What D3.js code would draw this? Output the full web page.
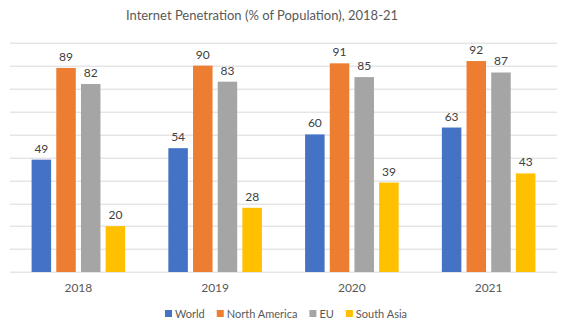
<!DOCTYPE html>
<html>
<head>
<meta charset="utf-8">
<script src="https://cdn.jsdelivr.net/npm/d3@7"></script>
<style>
  body { margin: 0; background: #fff; }
  text { font-family: Lato, "Open Sans", sans-serif; }
</style>
</head>
<body>
<svg id="chart" width="567" height="330"></svg>
<script>
// data
const years = ["2018", "2019", "2020", "2021"];
const seriesNames = ["World", "North America", "EU", "South Asia"];
const world = [49, 54, 60, 63];
const northAmerica = [89, 90, 91, 92];
const eu = [82, 83, 85, 87];
const southAsia = [20, 28, 39, 43];
const yTicks = [0, 10, 20, 30, 40, 50, 60, 70, 80, 90, 100];

const colors = ["#4472C4", "#ED7D31", "#A5A5A5", "#FFC000"];
const allSeries = [world, northAmerica, eu, southAsia];

const svg = d3.select("#chart");
const margin = { top: 42.7, right: 10, bottom: 58, left: 10 };
const width = +svg.attr("width") - margin.left - margin.right;
const height = +svg.attr("height") - margin.top - margin.bottom;

const chart = svg.append("g")
  .attr("transform", `translate(${margin.left},${margin.top})`);

// scales
const x0 = d3.scaleBand().domain(years).range([0, width])
  .paddingInner(0.316).paddingOuter(0.158);
const x1 = d3.scaleBand().domain(seriesNames).range([0, x0.bandwidth()])
  .paddingInner(0.21).paddingOuter(0);
const y = d3.scaleLinear().domain([0, 100]).range([height, 0]);
const color = d3.scaleOrdinal().domain(seriesNames).range(colors);

// gridlines
chart.selectAll(".grid")
  .data(yTicks)
  .enter()
  .append("line")
  .attr("class", "grid")
  .attr("x1", 0)
  .attr("x2", width)
  .attr("y1", d => Math.round(y(d)) + 0.5)
  .attr("y2", d => Math.round(y(d)) + 0.5)
  .attr("stroke", "#d9d9d9")
  .attr("stroke-width", 1);

// bars
const rows = years.map((yr, i) => ({
  year: yr,
  values: seriesNames.map((s, j) => ({ series: s, value: allSeries[j][i] }))
}));

const groups = chart.selectAll(".group")
  .data(rows)
  .enter()
  .append("g")
  .attr("class", "group")
  .attr("transform", d => `translate(${x0(d.year)},0)`);

groups.selectAll("rect")
  .data(d => d.values)
  .enter()
  .append("rect")
  .attr("x", d => x1(d.series))
  .attr("y", d => y(d.value))
  .attr("width", x1.bandwidth())
  .attr("height", d => y(0) - y(d.value))
  .attr("fill", d => color(d.series));

groups.selectAll(".label")
  .data(d => d.values)
  .enter()
  .append("text")
  .attr("class", "label")
  .attr("x", d => x1(d.series) + x1.bandwidth() / 2)
  .attr("y", d => y(d.value) - 7)
  .attr("text-anchor", "middle")
  .attr("font-size", 12)
  .attr("fill", "#404040")
  .text(d => d.value);

// x axis
const xAxis = chart.append("g")
  .attr("transform", `translate(0,${height})`)
  .call(d3.axisBottom(x0).tickSize(0).tickPadding(11));
xAxis.select(".domain").remove();
xAxis.selectAll("text")
  .attr("font-size", 12)
  .attr("fill", "#595959")
  .style("font-family", "Lato, 'Open Sans', sans-serif");

// title
svg.append("text")
  .attr("x", 262)
  .attr("y", 20)
  .attr("text-anchor", "middle")
  .attr("font-size", 13)
  .attr("fill", "#595959")
  .text("Internet Penetration (% of Population), 2018-21");

// legend, laid out from text widths and centred
const legend = svg.append("g");
let cursor = 0;
seriesNames.forEach(s => {
  const item = legend.append("g").attr("transform", `translate(${cursor},0)`);
  item.append("rect")
    .attr("x", 0)
    .attr("y", 310)
    .attr("width", 7)
    .attr("height", 7)
    .attr("fill", color(s));
  const t = item.append("text")
    .attr("x", 10)
    .attr("y", 318)
    .attr("font-size", 11)
    .attr("fill", "#595959")
    .text(s);
  cursor += 10 + t.node().getComputedTextLength() + 12;
});
const legendWidth = cursor - 12;
legend.attr("transform", `translate(${286 - legendWidth / 2},0)`);
</script>
</body>
</html>
